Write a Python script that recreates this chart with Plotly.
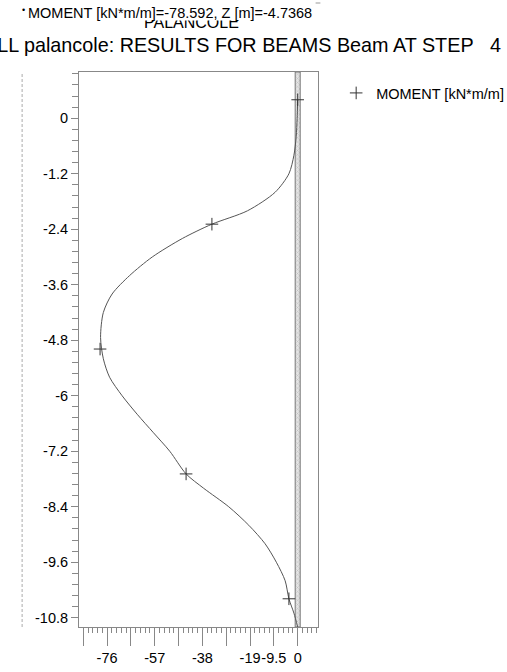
import plotly.graph_objects as go

# ---- data ----
z_m = [0.4, 0.0, -0.4, -0.8, -1.2, -1.6, -2.0, -2.29, -2.6, -3.0, -3.4, -3.8, -4.2,
       -4.74, -5.2, -5.6, -6.0, -6.4, -6.8, -7.2, -7.69, -8.0, -8.4, -8.8, -9.2,
       -9.6, -10.0, -10.39, -10.7, -11.0]
moment = [0.0, -0.2, -0.6, -1.5, -3.5, -9.0, -20.0, -34.2, -46.0, -58.0, -67.0,
          -74.0, -77.5, -78.6, -77.5, -75.0, -70.0, -64.0, -57.5, -51.0, -44.5,
          -37.5, -27.5, -19.5, -13.0, -8.5, -5.0, -3.5, -1.5, 0.0]
marker_z = [0.4, -2.29, -4.99, -7.69, -10.39]
marker_m = [0.0, -34.2, -78.8, -44.5, -3.5]

wall_x = [-1.0, 1.0]
wall_z = [1.0, -11.0]

x_major = [-85.5, -76, -66.5, -57, -47.5, -38, -28.5, -19, -9.5, 0]
x_labels = ["", "-76", "", "-57", "", "-38", "", "-19", "-9.5", "0"]
y_major = [0, -1.2, -2.4, -3.6, -4.8, -6, -7.2, -8.4, -9.6, -10.8]
y_labels = ["0", "-1.2", "-2.4", "-3.6", "-4.8", "-6", "-7.2", "-8.4", "-9.6", "-10.8"]

title1 = "MOMENT [kN*m/m]=-78.592, Z [m]=-4.7368"
title_hidden = "PALANCOLE"
title2 = "ALL palancole: RESULTS FOR BEAMS Beam AT STEP"
step = "4"
legend_name = "MOMENT [kN*m/m]"

FONT = "Liberation Sans, Arial, sans-serif"
fig = go.Figure()

# wall (hatched band)
fig.add_trace(go.Scatter(
    x=[wall_x[0], wall_x[1], wall_x[1], wall_x[0], wall_x[0]],
    y=[wall_z[0], wall_z[0], wall_z[1], wall_z[1], wall_z[0]],
    mode="lines", fill="toself", fillcolor="#d8d8d8",
    fillpattern=dict(shape="x", fgcolor="#8a8a8a", bgcolor="#e4e4e4", size=3, solidity=0.3),
    line=dict(color="#777777", width=1), showlegend=False, hoverinfo="skip"))

fig.add_trace(go.Scatter(x=moment, y=z_m, mode="lines",
                         line=dict(color="#555555", width=1, shape="spline", smoothing=0.8),
                         showlegend=False))
fig.add_trace(go.Scatter(x=marker_m, y=marker_z, mode="markers", name=legend_name,
                         marker=dict(symbol="cross-thin", size=9, line=dict(color="#333333", width=1))))

fig.update_layout(
    width=507, height=672,
    margin=dict(l=79, r=189, t=72, b=45, autoexpand=False),
    paper_bgcolor="white", plot_bgcolor="white",
    font=dict(family=FONT, size=14.5, color="black"),
    showlegend=True,
    legend=dict(x=1.076, y=0.991, xanchor="left", yanchor="top", font=dict(size=14.5),
                bgcolor="rgba(0,0,0,0)"),
    xaxis=dict(range=[-87.2, 8.1], tickmode="array", tickvals=x_major, ticktext=x_labels,
               tickangle=0, automargin=False,
               ticks="outside", ticklen=18, tickcolor="#888888", showgrid=False, zeroline=False,
               showline=True, mirror=True, linecolor="#888888", linewidth=1,
               minor=dict(dtick=1.9, tick0=0, ticks="outside", ticklen=5, tickcolor="#888888", showgrid=False)),
    yaxis=dict(range=[-11.0, 1.0], tickmode="array", tickvals=y_major, ticktext=y_labels,
               automargin=False,
               ticks="outside", ticklen=7, tickcolor="#888888", showgrid=False, zeroline=False,
               showline=True, mirror=True, linecolor="#888888", linewidth=1,
               minor=dict(dtick=0.24, tick0=0, ticks="outside", ticklen=6, tickcolor="#888888", showgrid=False)),
)

# left dashed line
fig.add_shape(type="line", xref="paper", yref="paper", x0=-0.238, x1=-0.238, y0=0, y1=1.0,
              line=dict(color="#aaaaaa", width=1, dash="3px,2px"))
# small mark at the top right
fig.add_shape(type="line", xref="paper", yref="paper", x0=0.99, x1=1.01, y0=1.1243, y1=1.1243,
              line=dict(color="#999999", width=1))

# titles
fig.add_annotation(text=title_hidden, xref="paper", yref="paper", x=0.469, y=1.0,
                   xanchor="center", yanchor="bottom", yshift=39, showarrow=False,
                   font=dict(size=16, color="black"))
# white cover hiding the upper part of the hidden title
fig.add_annotation(text="....................", xref="paper", yref="paper", x=0.469,
                   y=(627 - 15.5) / 555,
                   xanchor="center", yanchor="middle", showarrow=False, width=110, height=10,
                   bgcolor="white", borderpad=0, font=dict(size=6, color="white"))
fig.add_annotation(text=title1, xref="paper", yref="paper", x=-0.222, y=1.0, xanchor="left",
                   yanchor="bottom", yshift=49, showarrow=False,
                   borderpad=1, font=dict(size=14.5, color="black"))
fig.add_annotation(text="•", xref="paper", yref="paper", x=(23 - 79) / 239, y=(627 - 10) / 555,
                   xanchor="center", yanchor="middle", showarrow=False,
                   font=dict(size=9, color="black"))
fig.add_annotation(text=title2, xref="paper", yref="paper", x=-0.405, y=1.0, xanchor="left",
                   yanchor="bottom", yshift=14, showarrow=False, font=dict(size=19.8, color="black"))
fig.add_annotation(text=step, xref="paper", yref="paper", x=1.712, y=1.0, xanchor="left",
                   yanchor="bottom", yshift=14, showarrow=False, font=dict(size=19.8, color="black"))

fig.write_html("out.html")
